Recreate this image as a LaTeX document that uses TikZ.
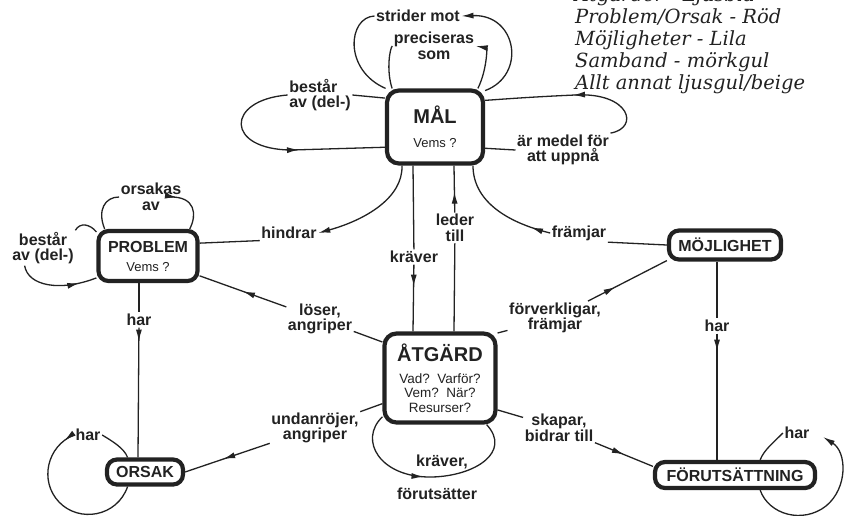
\documentclass[tikz,border=0pt]{standalone}
\usepackage{fontspec}
\setmainfont{Liberation Sans}
\newfontfamily\legendfont{DejaVu Serif}
\usetikzlibrary{arrows.meta,decorations.markings}

\definecolor{ink}{HTML}{222222}

\tikzset{
  box/.style={draw=ink, line width=4.2pt, rounded corners=12pt, inner sep=0pt,
    align=center, text=ink},
  pill/.style={box, rounded corners=10pt, font=\bfseries\fontsize{16}{18}\selectfont},
  lbl/.style={inner sep=1.5pt, align=center, text=ink,
    font=\bfseries\fontsize{16}{15.5}\selectfont},
  link/.style={draw=ink, line width=1.3pt},
  tipend/.style={-{Latex[length=12pt,width=6pt]}},
  arrowat/.style={postaction={decorate,decoration={markings,
    mark=at position #1 with {\arrow{Latex[length=12pt,width=6pt]}}}}},
  legend/.style={anchor=base west, inner sep=0pt, text=ink,
    font=\legendfont\itshape\fontsize{19.5}{19.5}\selectfont},
}

\begin{document}
\begin{tikzpicture}[x=1pt,y=-1pt]
\useasboundingbox (0,0) rectangle (846,515);
\fill[white] (0,0) rectangle (846,515);

% colour key
\begin{scope}
\clip (0,0) rectangle (846,515);
\node[legend] (leg0) at (575,1) {Åtgärder - Ljusblå};
\node[legend] (leg1) at (575,23) {Problem/Orsak - Röd};
\node[legend] (leg2) at (575,45) {Möjligheter - Lila};
\node[legend] (leg3) at (575,67) {Samband - mörkgul};
\node[legend] (leg4) at (575,89) {Allt annat ljusgul/beige};
\end{scope}

% concepts
\node[box, minimum width=96pt, minimum height=73pt, font=\fontsize{13}{14}\selectfont] (mal) at (435,127)
  {{\bfseries\fontsize{20}{20}\selectfont MÅL}\\[10pt]Vems ?};
\node[box, minimum width=111pt, minimum height=89pt, font=\fontsize{13.5}{14.5}\selectfont] (atgard) at (440,378)
  {{\bfseries\fontsize{20}{20}\selectfont ÅTGÄRD}\\[7pt]Vad?\ \ Varför?\\Vem?\ \ När?\\Resurser?};
\node[box, rounded corners=10pt, minimum width=99pt, minimum height=50pt, font=\fontsize{13}{14}\selectfont] (problem) at (148,256)
  {{\bfseries\fontsize{16}{16}\selectfont PROBLEM}\\[5pt]Vems ?};
\node[pill, minimum width=76pt, minimum height=25pt] (orsak) at (145,472) {ORSAK};
\node[pill, minimum width=112pt, minimum height=29pt] (moj) at (725,245) {MÖJLIGHET};
\node[pill, minimum width=160pt, minimum height=26pt] (forut) at (735,475) {FÖRUTSÄTTNING};

% relation labels
\node[lbl] (strider) at (418,16) {strider mot};
\node[lbl] (precis) at (434,46) {preciseras\\som};
\node[lbl, align=left] (bestar1) at (320,95) {består\\av (del-)};
\node[lbl] (medel) at (563,150) {är medel för\\att uppnå};
\node[lbl] (hindrar) at (289,233) {hindrar};
\node[lbl] (kraver) at (414,257) {kräver};
\node[lbl] (leder) at (455,228) {leder\\till};
\node[lbl] (framjar) at (579,233) {främjar};
\node[lbl] (orsakas) at (151,197) {orsakas\\av};
\node[lbl] (bestar2) at (43,248) {består\\av (del-)};
\node[lbl] (har1) at (139,320) {har};
\node[lbl] (loser) at (320,319) {löser,\\angriper};
\node[lbl] (undan) at (315,428) {undanröjer,\\angriper};
\node[lbl] (forverk) at (555,318) {förverkligar,\\främjar};
\node[lbl] (skapar) at (559,428) {skapar,\\bidrar till};
\node[lbl] (kraver2) at (442,462) {kräver,};
\node[lbl] (forutsatter) at (437,494) {förutsätter};
\node[lbl] (har2) at (717,326) {har};
\node[lbl] (har3) at (88,435) {har};
\node[lbl] (har4) at (797,433) {har};
\coordinate (loopend) at (823,437);

% loops around MÅL
\draw[link, tipend] (mal.36) .. controls (527,75) and (517,14) .. (strider.east);
\draw[link] (strider.west) .. controls (348,17) and (343,70) .. (mal.142);
\draw[link, tipend] (mal.42) .. controls (487,70) and (487,48) .. (precis.east);
\draw[link] (precis.west) .. controls (390,48) and (386,70) .. (mal.138);
\draw[link] (mal.150) -- (bestar1.east);
\draw[link, arrowat=0.6] (bestar1.west) .. controls (225,100) and (225,150) .. (292,150) -- (mal.202);
\draw[link] (mal.-23) -- (medel.west);
\draw[link, arrowat=0.5] (medel.north east) .. controls (640,128) and (630,92) .. (575,95)
  .. controls (530,97) and (505,99) .. (mal.28);

% MÅL and ÅTGÄRD
\draw[link] ([xshift=-22pt]mal.south) -- (kraver);
\draw[link, arrowat=22pt] (kraver) -- ([xshift=-27pt]atgard.north);
\draw[link] ([xshift=14pt]atgard.north) -- (leder);
\draw[link, arrowat=21pt] (leder) -- ([xshift=19pt]mal.south);

% MÅL with PROBLEM and MÖJLIGHET
\draw[link, tipend] ([xshift=-33pt]mal.south) .. controls (403,198) and (365,220) .. (hindrar.east);
\draw[link] (hindrar.south west) -- (problem.14);
\draw[link] (moj.west) -- (framjar.south east);
\draw[link, arrowat=20pt] (framjar.west) .. controls (505,222) and (473,200) .. ([xshift=38pt]mal.south);

% ÅTGÄRD outwards
\draw[link] (atgard.148) -- (loser);
\draw[link, arrowat=0.5] (loser) -- (problem.-21);
\draw[link] (atgard.204) -- (undan);
\draw[link, arrowat=0.55] (undan) -- (orsak.east);
\draw[link] (atgard.38) -- (forverk);
\draw[link, arrowat=0.35] (forverk) -- (moj.195);
\draw[link] (atgard.-29) -- (skapar);
\draw[link, arrowat=0.5] (skapar) -- (forut.174);
\draw[link, arrowat=0.47] (atgard.214) .. controls (358,440) and (380,478) .. (432,477)
  .. controls (475,476) and (512,452) .. (atgard.-45);

% "har" links
\draw[link] ([xshift=-9pt]problem.south) -- (har1);
\draw[link, arrowat=14pt] (har1) -- ([xshift=-7pt]orsak.north);
\draw[link] ([xshift=-8pt]moj.south) -- (har2);
\draw[link, arrowat=18pt] (har2) -- ([xshift=-18pt]forut.north);

% loops around PROBLEM
\draw[link] (problem.148) .. controls (97,210) and (105,197) .. (orsakas.west);
\draw[link, arrowat=8pt] ([xshift=-14pt]orsakas.east) .. controls (196,196) and (197,215) .. (problem.33);
\draw[link] (problem.155) .. controls (90,224) and (80,222) .. (bestar2.north east);
\draw[link, arrowat=0.78] ([xshift=14pt]bestar2.south west) .. controls (28,286) and (60,292) .. (problem.203);

% loop around ORSAK
\draw[link] (orsak.140) .. controls (124,448) and (112,441) .. (har3.east);
\draw[link, arrowat=11pt] (har3.west) .. controls (47,446) and (39,481) .. (59,502)
  .. controls (79,523) and (117,517) .. (orsak.220);

% loop around FÖRUTSÄTTNING
\draw[link, tipend] (forut.-31) .. controls (769,515) and (803,524) .. (826,506)
  .. controls (848,488) and (847,452) .. (loopend);
\draw[link] (har4.west) .. controls (773,443) and (764,450) .. (forut.31);
\end{tikzpicture}
\end{document}
